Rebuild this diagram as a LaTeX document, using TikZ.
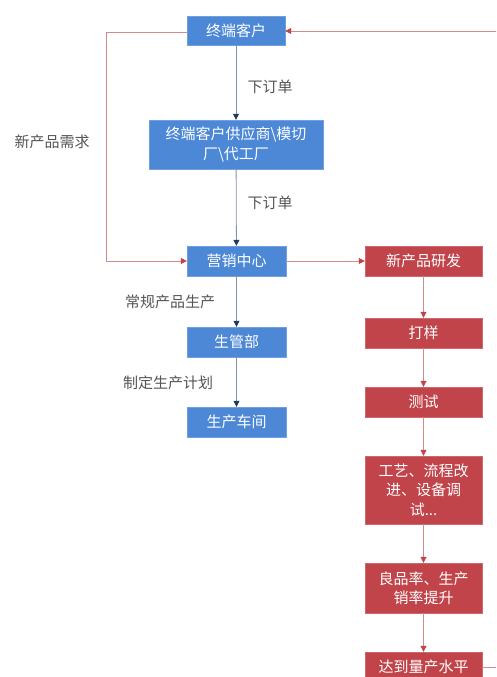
\documentclass[tikz,border=0pt]{standalone}
\usepackage{fontspec}
\setmainfont{Noto Sans CJK SC}
\usetikzlibrary{arrows.meta}
\definecolor{boxblue}{HTML}{4C88D5}
\definecolor{boxred}{HTML}{C0444A}
\definecolor{linered}{HTML}{D58A8C}
\definecolor{tipred}{HTML}{C0444A}
\definecolor{lineblue}{HTML}{8592A8}
\definecolor{tipblue}{HTML}{1F3A60}
\definecolor{labelgray}{HTML}{555555}
\begin{document}
\begin{tikzpicture}[x=1pt,y=-1pt,
  bluebox/.style={fill=boxblue,draw=boxblue!80!white,text=white,minimum height=30pt,inner sep=0pt,align=center,font=\fontsize{15}{19.5}\selectfont},
  redbox/.style={fill=boxred,draw=boxred!80!white,text=white,minimum height=30pt,minimum width=117pt,inner sep=0pt,align=center,font=\fontsize{15}{19.5}\selectfont},
  blueflow/.style={draw=lineblue,line width=0.8pt,-{Triangle[width=6pt,length=6pt,color=tipblue]}},
  redflow/.style={draw=linered,line width=0.8pt,-{Triangle[width=6pt,length=6pt,color=tipred]}},
  lbl/.style={text=labelgray,font=\fontsize{15}{18}\selectfont,inner sep=0pt}
]
\useasboundingbox (0,0) rectangle (496,677);
\clip (0,0) rectangle (496,677);
\fill[white] (0,0) rectangle (496,677);
% blue column
\node[bluebox,minimum width=98pt,minimum height=29pt] (c1) at (236,30.5) {终端客户};
\node[bluebox,minimum width=174pt,minimum height=49pt] (c2) at (236,144.5) {终端客户供应商\textbackslash 模切\\厂\textbackslash 代工厂};
\node[bluebox,minimum width=99pt] (c3) at (236.5,261) {营销中心};
\node[bluebox,minimum width=99pt] (c4) at (236.5,342) {生管部};
\node[bluebox,minimum width=99pt] (c5) at (236.5,422) {生产车间};
% red column
\node[redbox] (r1) at (423.5,261) {新产品研发};
\node[redbox] (r2) at (423.5,333) {打样};
\node[redbox] (r3) at (423.5,402) {测试};
\node[redbox,minimum height=68pt] (r4) at (423.5,490) {工艺、流程改\\进、设备调\\试...};
\node[redbox,minimum height=50pt] (r5) at (423.5,588) {良品率、生产\\销率提升};
\node[redbox] (r6) at (423.5,667) {达到量产水平};
% labels
\node[lbl] (l1) at (270,87) {下订单};
\node[lbl] (l2) at (270,203) {下订单};
\node[lbl] (l3) at (170,302) {常规产品生产};
\node[lbl] (l4) at (168,383) {制定生产计划};
\node[lbl] (l5) at (52,142) {新产品需求};
% blue connectors
\draw[blueflow] (c1) -- (c2);
\draw[blueflow] (c2) -- (c3);
\draw[blueflow] (c3) -- (c4);
\draw[blueflow] (c4) -- (c5);
% red connectors
\draw[redflow] (c3) -- (r1);
\draw[redflow] (r1) -- (r2);
\draw[redflow] (r2) -- (r3);
\draw[redflow] (r3) -- (r4);
\draw[redflow] (r4) -- (r5);
\draw[redflow] (r5) -- (r6);
\coordinate (lt) at (106,32);
\coordinate (lb) at (106,261);
\draw[redflow] (c1.west |- lt) -- (lt) -- (lb) -- (c3.west);
\coordinate (rb) at (510,667);
\coordinate (rt) at (510,31);
\draw[redflow] (r6.east) -- (rb) -- (rt) -- (c1.east |- rt);
\end{tikzpicture}
\end{document}
